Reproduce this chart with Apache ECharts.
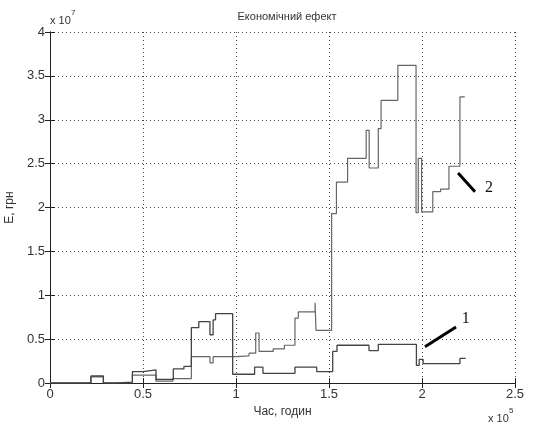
<!DOCTYPE html>
<html>
<head>
<meta charset="utf-8">
<script src="https://cdn.jsdelivr.net/npm/echarts@6/dist/echarts.min.js"></script>
<style>
  html, body { margin: 0; padding: 0; background: #fff; }
  #chart { width: 533px; height: 430px; }
</style>
</head>
<body>
<div id="chart"></div>
<script>
// time in 10^5 hours, effect in 10^7 UAH (step values, held until next point)
var line1 = [
  [0, 0], [0.22, 0.08], [0.287, 0.0], [0.36, 0.01], [0.443, 0.13], [0.50, 0.15],
  [0.57, 0.04], [0.663, 0.16], [0.72, 0.19], [0.76, 0.63], [0.80, 0.70],
  [0.86, 0.55], [0.877, 0.72], [0.89, 0.79], [0.982, 0.10], [1.10, 0.18],
  [1.145, 0.11], [1.317, 0.18], [1.434, 0.13], [1.52, 0.36], [1.543, 0.43],
  [1.715, 0.37], [1.765, 0.44], [1.97, 0.20], [1.985, 0.27], [2.006, 0.22],
  [2.204, 0.28], [2.235, 0.28]
];
var line2 = [
  [0, 0], [0.22, 0.07], [0.287, 0.0], [0.443, 0.09], [0.57, 0.02], [0.66, 0.05],
  [0.76, 0.30], [0.86, 0.23], [0.877, 0.30], [1.0, 0.31], [1.07, 0.34],
  [1.106, 0.57], [1.124, 0.36], [1.2, 0.39], [1.26, 0.43], [1.317, 0.74],
  [1.335, 0.81], [1.425, 0.915], [1.43, 0.60], [1.514, 1.93], [1.54, 2.29],
  [1.60, 2.56], [1.70, 2.88], [1.716, 2.45], [1.765, 2.90], [1.78, 3.22],
  [1.87, 3.62], [1.968, 1.94], [1.98, 2.56], [1.998, 1.95], [2.058, 2.18],
  [2.10, 2.21], [2.145, 2.47], [2.204, 3.26], [2.23, 3.26]
];
var xTicks = [0, 0.5, 1, 1.5, 2, 2.5];
var yTicks = [0, 0.5, 1, 1.5, 2, 2.5, 3, 3.5, 4];
// pointer lines for the curve numbers: [from, to, label position, text]
var pointers = [
  [[2.016, 0.414], [2.183, 0.638], [2.235, 0.73], '1'],
  [[2.194, 2.393], [2.285, 2.18], [2.36, 2.23], '2']
];

var font = 'Liberation Sans, Arial, sans-serif';
var chart = echarts.init(document.getElementById('chart'));

var gridLine = { show: true, lineStyle: { color: '#444', width: 1, type: [1, 3] } };

function mainAxis(ticks, pos, name, gap, rot) {
  return {
    type: 'value', position: pos,
    min: ticks[0], max: ticks[ticks.length - 1], interval: 0.5,
    name: name, nameLocation: 'middle', nameGap: gap, nameRotate: rot,
    nameTextStyle: { fontFamily: font, fontSize: 12, color: '#333' },
    axisLine: { show: true, lineStyle: { color: '#222', width: 1 } },
    axisTick: { show: true, inside: true, length: 5, lineStyle: { color: '#222' } },
    axisLabel: { fontFamily: font, fontSize: 13, color: '#333', margin: 5 },
    splitLine: gridLine
  };
}
function sideAxis(ticks, pos) {
  return {
    type: 'value', position: pos,
    min: ticks[0], max: ticks[ticks.length - 1], interval: 0.5,
    axisLine: { show: true, lineStyle: { color: '#222', width: 1 } },
    axisTick: { show: true, inside: true, length: 5, lineStyle: { color: '#222' } },
    axisLabel: { show: false },
    splitLine: { show: false }
  };
}

chart.setOption({
  animation: false,
  backgroundColor: '#fff',
  title: {
    text: 'Економічний ефект', left: 282, textAlign: 'center', top: 6,
    textStyle: { fontFamily: font, fontSize: 11, fontWeight: 'normal', color: '#333' }
  },
  grid: { left: 50, right: 18, top: 32, bottom: 47, containLabel: false, outerBoundsMode: 'none' },
  xAxis: [mainAxis(xTicks, 'bottom', 'Час, годин', 19, 0), sideAxis(xTicks, 'top')],
  yAxis: [mainAxis(yTicks, 'left', 'E, грн', 29, 90), sideAxis(yTicks, 'right')],
  series: [
    {
      name: '1', type: 'line', step: 'end', data: line1, showSymbol: false,
      lineStyle: { color: '#444', width: 1.3 }, z: 3
    },
    {
      name: '2', type: 'line', step: 'end', data: line2, showSymbol: false,
      lineStyle: { color: '#666', width: 1.2 }, z: 2
    }
  ]
});

var g = [
  { type: 'text', left: 50, top: 15, style: { text: 'x 10', font: '11px ' + font, fill: '#333' } },
  { type: 'text', left: 71, top: 9, style: { text: '7', font: '8px ' + font, fill: '#333' } },
  { type: 'text', left: 488, top: 413, style: { text: 'x 10', font: '11px ' + font, fill: '#333' } },
  { type: 'text', left: 509, top: 407, style: { text: '5', font: '8px ' + font, fill: '#333' } }
];
pointers.forEach(function (p) {
  var a = chart.convertToPixel({ gridIndex: 0 }, p[0]);
  var b = chart.convertToPixel({ gridIndex: 0 }, p[1]);
  var c = chart.convertToPixel({ gridIndex: 0 }, p[2]);
  g.push({ type: 'line', shape: { x1: a[0], y1: a[1], x2: b[0], y2: b[1] },
    style: { stroke: '#000', lineWidth: 3 }, z: 10 });
  g.push({ type: 'text', x: c[0], y: c[1], z: 10,
    style: { text: p[3], font: '16px Liberation Serif, Times New Roman, serif', fill: '#111',
      textAlign: 'center', textVerticalAlign: 'middle' } });
});
chart.setOption({ graphic: g });
</script>
</body>
</html>
